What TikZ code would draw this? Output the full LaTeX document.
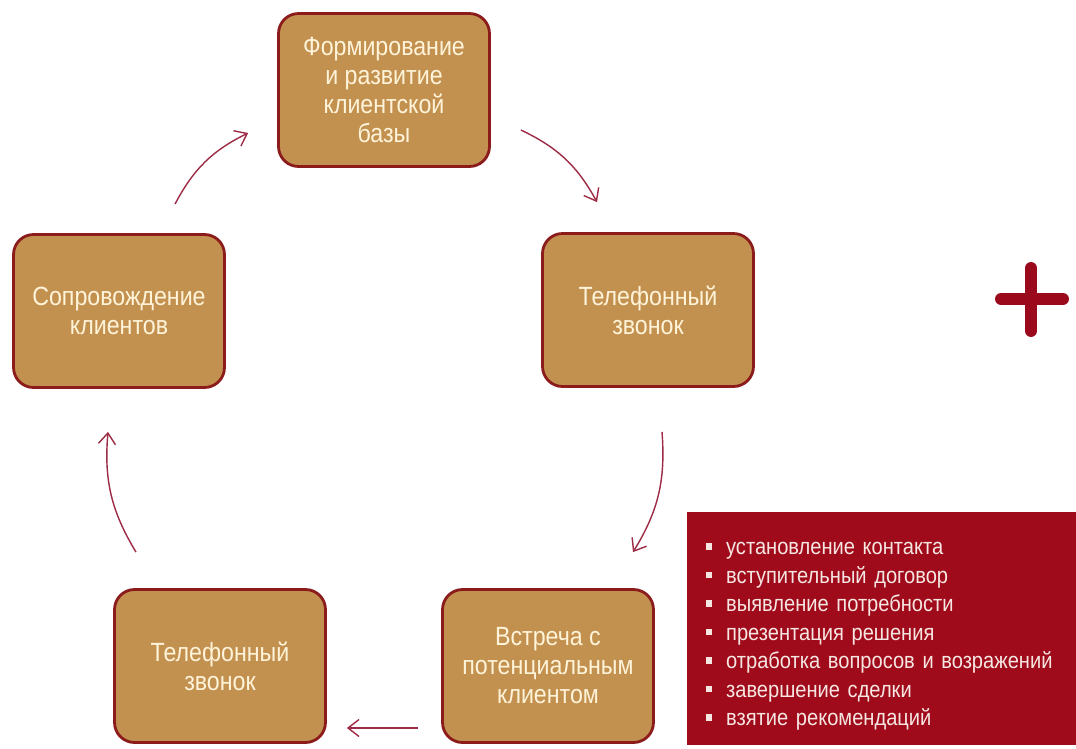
\documentclass[tikz,border=0pt]{standalone}
\usepackage{fontspec}
\setmainfont[FakeStretch=0.88]{Liberation Sans}
\usepackage{xcolor}
\usetikzlibrary{arrows.meta, positioning}

\definecolor{boxfill}{HTML}{C3914F}
\definecolor{boxedge}{HTML}{8C1C1C}
\definecolor{boxtext}{HTML}{FFF4DA}
\definecolor{listred}{HTML}{A00B1B}
\definecolor{listtext}{HTML}{F6E6E2}
\definecolor{linkred}{HTML}{9E2B45}
\definecolor{plusred}{HTML}{9B0A1C}

\newcommand{\sqb}{\rule[0.22em]{0.28em}{0.28em}\hspace{0.6em}}

\begin{document}
\begin{tikzpicture}[x=0.02cm, y=-0.02cm, >={Straight Barb[length=2.2mm,width=3.4mm]},
    stage/.style={draw=boxedge, line width=1.6pt, fill=boxfill, rounded corners=0.4cm,
        minimum width=4.22cm, minimum height=3.06cm, text=boxtext, align=center,
        font=\fontsize{15}{16.5}\selectfont},
    listbox/.style={fill=listred, minimum height=4.66cm, text width=7.4cm,
        inner xsep=0.38cm, text=listtext, align=left, font=\fontsize{13}{16.2}\selectfont},
    link/.style={->, draw=linkred, line width=0.8pt}]
    \useasboundingbox (0,0) rectangle (1076,748);

    % cycle of stages
    \node[stage] (base) at (384,90) {Формирование\\и развитие\\клиентской\\базы};
    \node[stage] (call1) at (648,310) {Телефонный\\звонок};
    \node[stage] (meet) at (548,666) {Встреча с\\потенциальным\\клиентом};
    \node[stage] (call2) at (220,666) {Телефонный\\звонок};
    \node[stage] (care) at (119,311) {Сопровождение\\клиентов};

    \draw[link] ([shift={(56,-29)}]care.north) to[bend left=18] ([shift={(-29,43)}]base.west);
    \draw[link] ([shift={(30,40)}]base.east) to[bend left=18] ([shift={(-51,-30)}]call1.north);
    \draw[link] ([shift={(14,44)}]call1.south) to[bend left=18] ([shift={(85,-36)}]meet.north);
    \draw[link] ([shift={(-23,62)}]meet.west) -- ([shift={(20,62)}]call2.east);
    \draw[link] ([shift={(-84,-36)}]call2.north) to[bend left=18] ([shift={(-11,43)}]care.south);

    % meeting steps
    \node[listbox] (steps) at (891,628.5) {\rule{0pt}{16pt}\sqb установление контакта\\
        \sqb вступительный договор\\
        \sqb выявление потребности\\
        \sqb презентация решения\\
        \sqb отработка вопросов и возражений\\
        \sqb завершение сделки\\
        \sqb взятие рекомендаций};

    % plus sign
    \draw[plusred, line width=6.8pt, line cap=round] (1001,299) -- (1063,299) (1031,268) -- (1031,331);
\end{tikzpicture}
\end{document}
